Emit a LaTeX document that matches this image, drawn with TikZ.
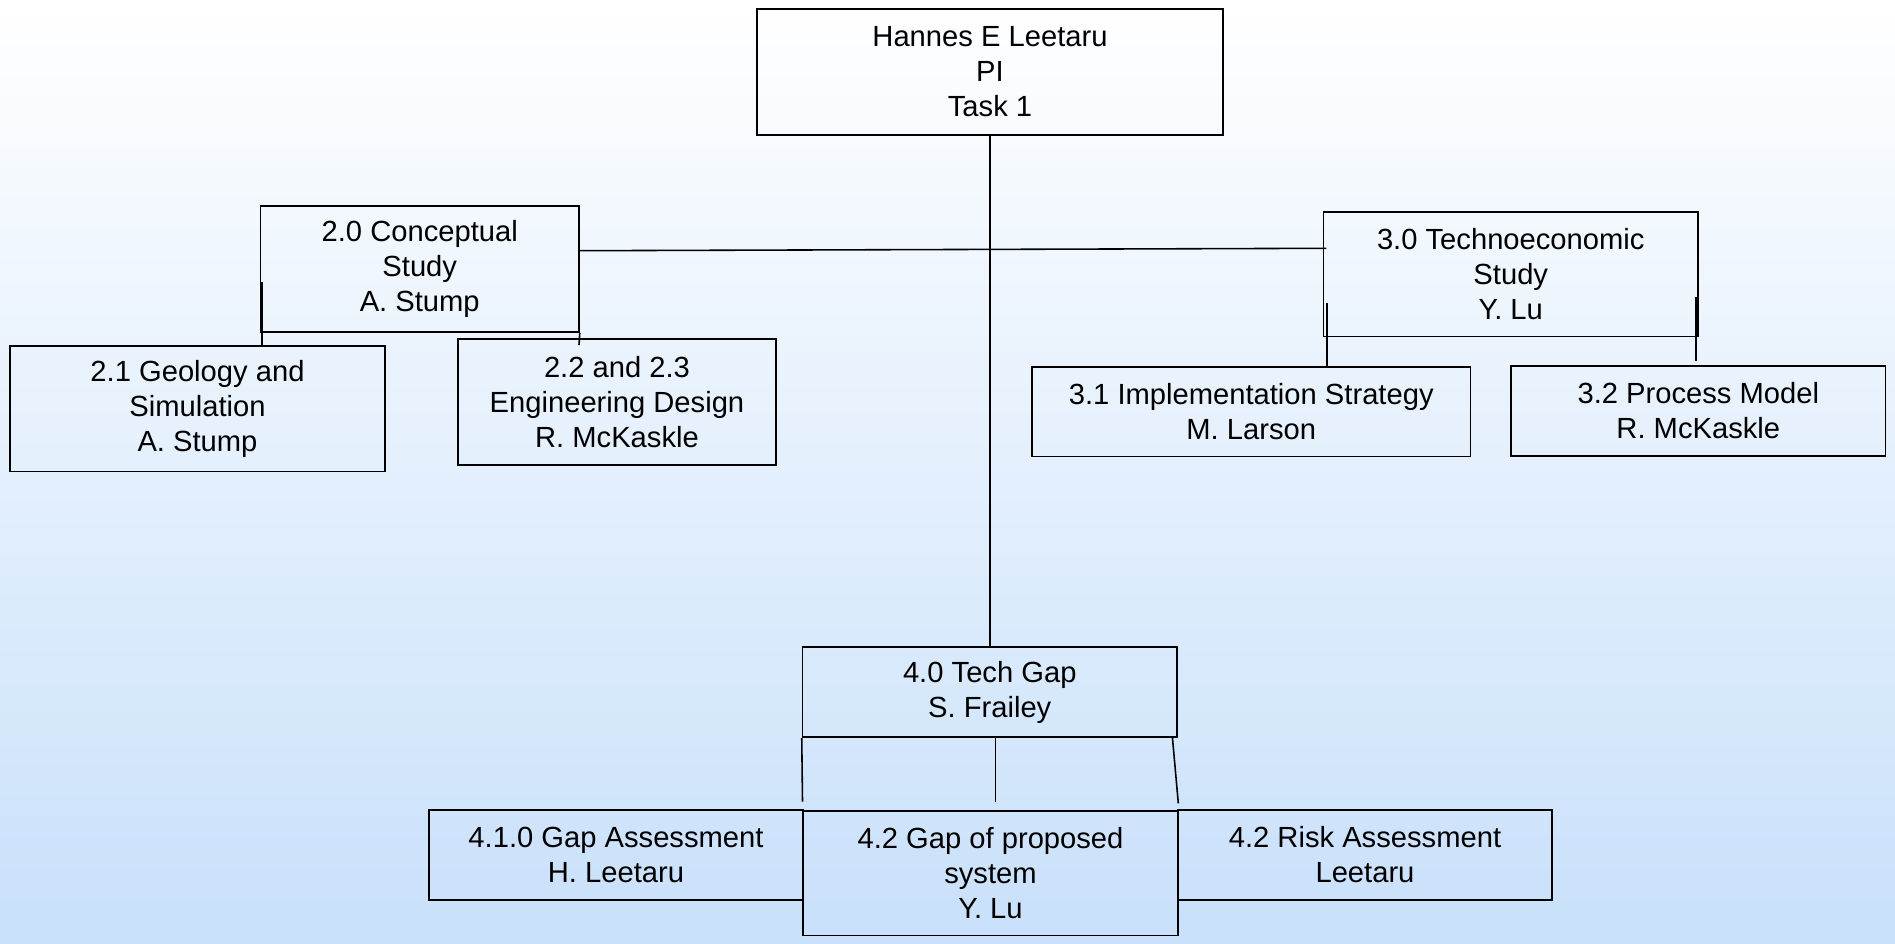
\documentclass[tikz,border=0pt]{standalone}
\usepackage{fontspec}
\setmainfont{Liberation Sans}
\newcommand\boxfont{\fontsize{16.6}{19.9}\selectfont}
\definecolor{bgtop}{RGB}{255,255,255}
\definecolor{bgbot}{RGB}{200,224,250}
\begin{document}
\begin{tikzpicture}[x={(0.02cm,0)},y={(0,-0.02cm)},
  box/.style={draw, line width=0.9pt, inner sep=0pt, align=center, font=\boxfont},
  conn/.style={draw, line width=0.9pt}]
\useasboundingbox (0,0) rectangle (1895,943);
\shade[top color=bgtop, bottom color=bgbot] (0,0) rectangle (1895,943);

\node[box, minimum width=9.32cm, minimum height=2.52cm] (pi) at (990,72) {Hannes E Leetaru\\PI\\Task 1};
\node[box, minimum width=6.37cm, minimum height=2.52cm] (concept) at (419.75,269) {2.0 Conceptual\\Study\\A. Stump};
\node[box, minimum width=7.5cm, minimum height=2.52cm] (geo) at (197.5,408.7) {2.1 Geology and\\Simulation\\A. Stump};
\node[box, minimum width=6.36cm, minimum height=2.52cm] (eng) at (617,402) {2.2 and 2.3\\Engineering Design\\R. McKaskle};
\node[box, minimum width=7.49cm, minimum height=2.5cm] (techno) at (1510.75,274.2) {3.0 Technoeconomic\\Study\\Y. Lu};
\node[box, minimum width=8.77cm, minimum height=1.8cm] (impl) at (1251.25,411.7) {3.1 Implementation Strategy\\M. Larson};
\node[box, minimum width=7.49cm, minimum height=1.8cm] (proc) at (1698.3,411) {3.2 Process Model\\R. McKaskle};
\node[box, minimum width=7.49cm, minimum height=1.81cm] (tech) at (989.75,692) {4.0 Tech Gap\\S. Frailey};
\node[box, minimum width=7.48cm, minimum height=1.8cm] (gapa) at (616,855) {4.1.0 Gap Assessment\\H. Leetaru};
\node[box, minimum width=7.5cm, minimum height=2.5cm] (gapp) at (990.5,873.2) {4.2 Gap of proposed\\system\\Y. Lu};
\node[box, minimum width=7.48cm, minimum height=1.8cm] (risk) at (1365,855) {4.2 Risk Assessment\\Leetaru};

% connectors
\draw[conn] (pi.south) -- (pi.south |- tech.north);
\draw[conn] ([yshift=0.366cm]concept.east) -- ([yshift=0.518cm,xshift=0.07cm]techno.west);

\coordinate (a21) at (262,282);
\draw[conn] (a21) -- (a21 |- geo.north);
\coordinate (a22) at (579,345);
\draw[conn] (concept.south east) -- (a22);

\coordinate (a31) at (1327,302.7);
\coordinate (b31) at (1327,365.7);
\draw[conn] (a31) -- (b31);
\coordinate (a32) at (1696,297);
\coordinate (b32) at (1696,360.7);
\draw[conn] (a32) -- (b32);

\coordinate (a41) at (802.5,801.7);
\draw[conn] (tech.south west) -- (a41);
\coordinate (a42t) at (995.6,737.3);
\coordinate (a42) at (995.6,801.7);
\draw[conn] (a42t) -- (a42);
\coordinate (a43t) at (1172.4,737.3);
\coordinate (a43) at (1178.3,803.3);
\draw[conn] (a43t) -- (a43);
\end{tikzpicture}
\end{document}
